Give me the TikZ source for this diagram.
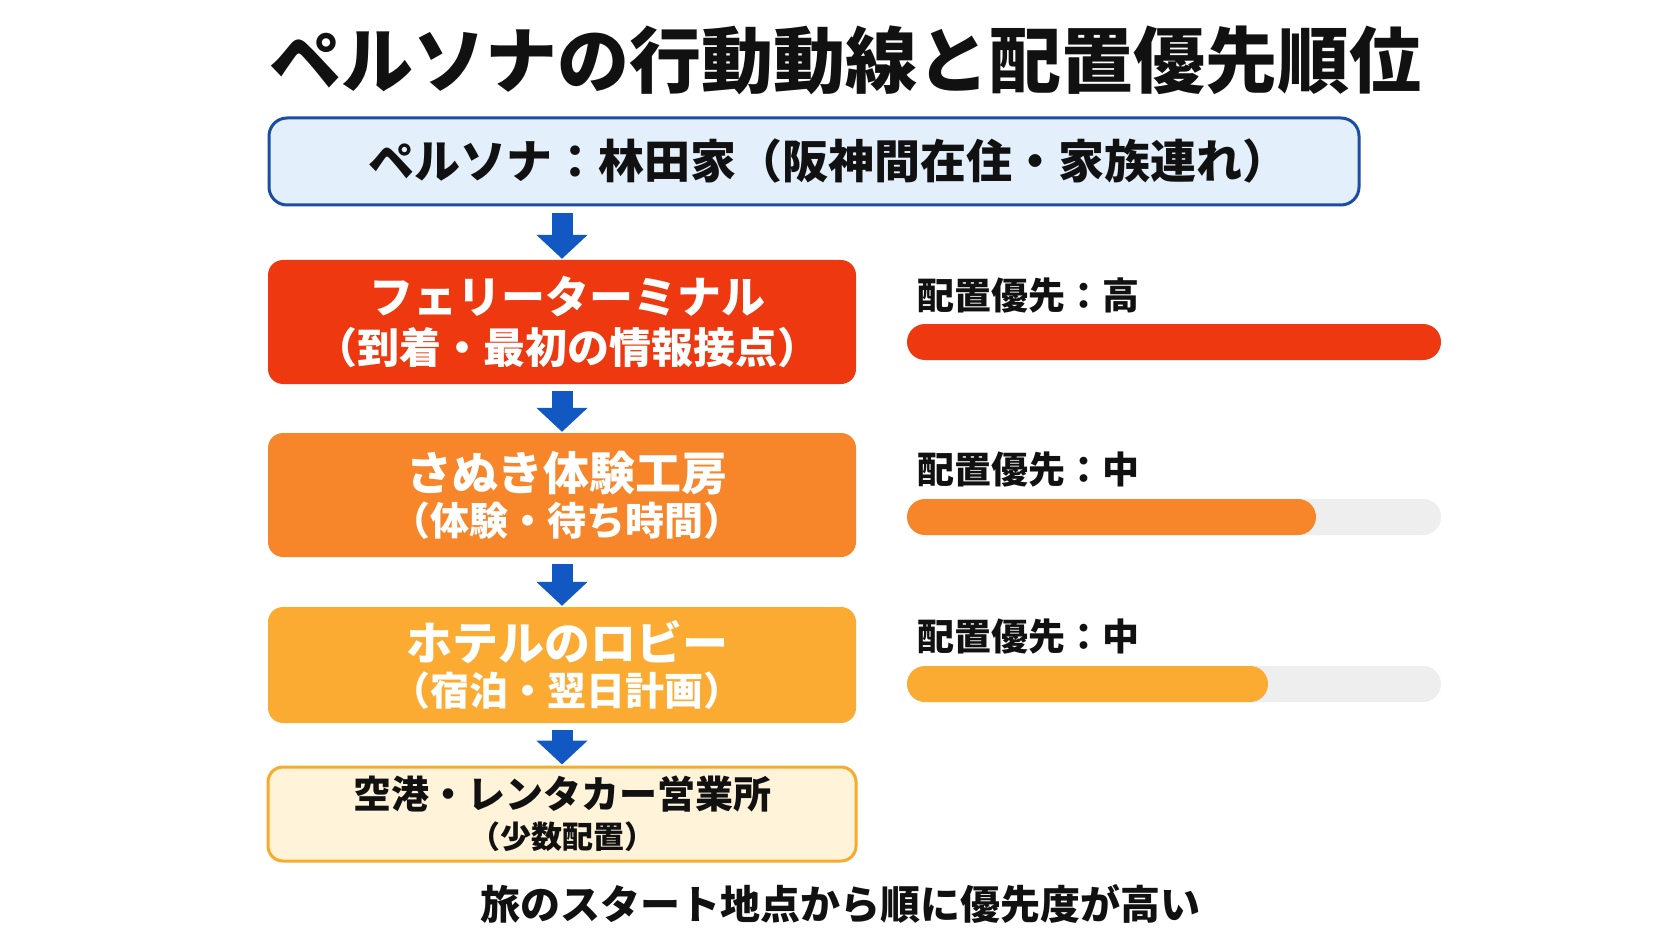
\documentclass[tikz,border=0pt]{standalone}
\usepackage{fontspec}
\setmainfont{Noto Sans CJK JP}
\usetikzlibrary{arrows.meta}
\definecolor{ink}{HTML}{111111}
\definecolor{ferryred}{HTML}{EE380F}
\definecolor{workshop}{HTML}{F7852A}
\definecolor{lobby}{HTML}{FBAA32}
\definecolor{airline}{HTML}{F9AA2A}
\definecolor{airfill}{HTML}{FFF4DA}
\definecolor{personablue}{HTML}{1A4EA6}
\definecolor{personafill}{HTML}{E3EFFB}
\definecolor{flowblue}{HTML}{1158C2}
\definecolor{track}{HTML}{EEEEEE}

\begin{document}
\begin{tikzpicture}[x=1pt,y=-1pt,
  box/.style={rounded corners=15pt,minimum width=588pt,align=center,text=white,inner sep=0pt},
  flow/.style={draw=flowblue,line width=21pt,-{Triangle[width=50pt,length=24pt]},shorten <=7pt,shorten >=1pt},
  tag/.style={anchor=west,inner sep=0pt,text=ink,font=\fontsize{37}{40}\selectfont\bfseries}]
\fill[white] (0,0) rectangle (1672,941);
\node[text=ink,font=\fontsize{72}{80}\selectfont\bfseries] (title) at (845,60) {ペルソナの行動動線と配置優先順位};
\node[box,draw=personablue,line width=3pt,fill=personafill,text=ink,rounded corners=18pt,minimum width=1090pt,minimum height=87pt,font=\fontsize{46}{50}\selectfont\bfseries] (persona) at (814,161.5) {\hspace*{28pt}ペルソナ：林田家（阪神間在住・家族連れ）};
\node[box,fill=ferryred,minimum height=124pt,font=\fontsize{44}{55}\selectfont\bfseries] (ferry) at (562,322) {\hspace*{10pt}フェリーターミナル\\[-5pt]{\fontsize{42}{55}\selectfont\hspace*{10pt}（到着・最初の情報接点）}};
\node[box,fill=workshop,minimum height=124pt,font=\fontsize{46}{50}\selectfont\bfseries] (workshop) at (562,495) {\hspace*{10pt}さぬき体験工房\\[-5pt]{\fontsize{39}{50}\selectfont\hspace*{10pt}（体験・待ち時間）}};
\node[box,fill=lobby,minimum height=116pt,font=\fontsize{46}{50}\selectfont\bfseries] (lobby) at (562,665) {\hspace*{10pt}ホテルのロビー\\[-5pt]{\fontsize{39}{50}\selectfont\hspace*{10pt}（宿泊・翌日計画）}};
\node[box,draw=airline,line width=3pt,fill=airfill,text=ink,minimum height=94pt,font=\fontsize{38}{40}\selectfont\bfseries] (airport) at (562,814) {空港・レンタカー営業所\\{\fontsize{31}{40}\selectfont （少数配置）}};
\node[text=ink,font=\fontsize{40}{44}\selectfont\bfseries] (note) at (840,904) {旅のスタート地点から順に優先度が高い};
\draw[flow] (ferry.north |- persona.south) -- (ferry.north);
\draw[flow] (ferry.south) -- (workshop.north);
\draw[flow] (workshop.south) -- (lobby.north);
\draw[flow] (lobby.south) -- (airport.north);
\foreach \i/\y/\e/\c/\t in {1/295/1441/ferryred/高,2/470/1316/workshop/中,3/637/1268/lobby/中}
  {\node[tag] (level\i) at (917,\y) {配置優先：\t};
  \fill[track,rounded corners=18pt] (907,\y+29) rectangle (1441,\y+65);
  \fill[\c,rounded corners=18pt] (907,\y+29) rectangle (\e,\y+65);}
\end{tikzpicture}
\end{document}
